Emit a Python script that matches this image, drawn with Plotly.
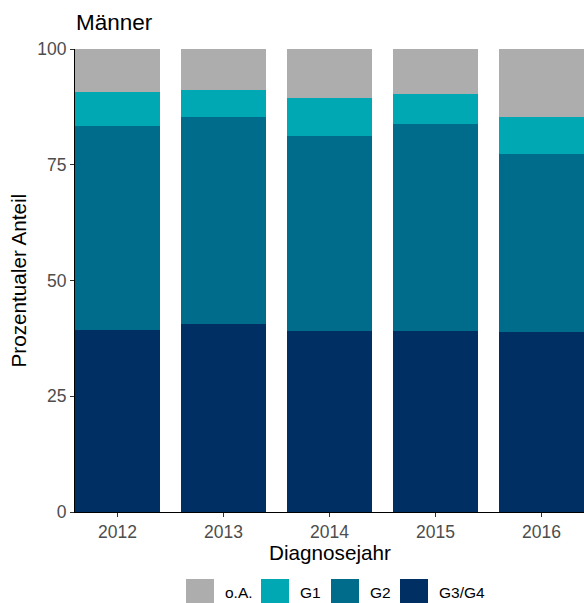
import plotly.graph_objects as go

years = ["2012", "2013", "2014", "2015", "2016"]
series_names = ["G3/G4", "G2", "G1", "o.A."]
g3g4 = [39.4, 40.5, 39.2, 39.2, 38.9]
g2 = [44.0, 44.8, 42.0, 44.6, 38.4]
g1 = [7.3, 5.9, 8.2, 6.5, 8.0]
oa = [9.3, 8.8, 10.6, 9.7, 14.7]
colors = ["#003063", "#006C8B", "#00A8B4", "#ADADAD"]
y_ticks = [0, 25, 50, 75, 100]

W, H = 584, 603
L, R, T, B = 75, 0, 49, 91
pw, ph = W - L - R, H - T - B

FONT = "Liberation Sans, Arial, sans-serif"

fig = go.Figure()
for name, vals, col in zip(series_names, [g3g4, g2, g1, oa], colors):
    fig.add_trace(go.Bar(x=years, y=vals, name=name, marker=dict(color=col, line=dict(width=0)),
                         showlegend=False))

fig.update_layout(
    width=W, height=H, barmode="stack", bargap=0.2,
    margin=dict(l=L, r=R, t=T, b=B, pad=0),
    paper_bgcolor="white", plot_bgcolor="white",
    font=dict(family=FONT),
    xaxis=dict(type="category", range=[-0.4, 4.4], showline=True, linecolor="black", linewidth=1.2,
               ticks="outside", ticklen=4, tickcolor="#333333", tickwidth=1,
               tickfont=dict(size=17.5, color="#4D4D4D"), showgrid=False, zeroline=False,
               fixedrange=True),
    yaxis=dict(range=[0, 100], tickvals=y_ticks, ticktext=[str(v) for v in y_ticks],
               showline=True, linecolor="black", linewidth=1.2,
               ticks="outside", ticklen=4, tickcolor="#333333", tickwidth=1,
               tickfont=dict(size=17.5, color="#4D4D4D"), showgrid=False, zeroline=False),
)

def px_x(px):
    return (px - L) / pw

def px_y(py):
    return (H - B - py) / ph

annotations = [
    dict(text="Männer", x=px_x(74), y=px_y(23), xref="paper", yref="paper", xanchor="left",
         yanchor="middle", showarrow=False, font=dict(size=22.5, color="black")),
    dict(text="Prozentualer Anteil", x=px_x(18), y=px_y(280.5), xref="paper", yref="paper",
         xanchor="center", yanchor="middle", textangle=-90, showarrow=False,
         font=dict(size=20.7, color="black")),
    dict(text="Diagnosejahr", x=px_x(330), y=px_y(552), xref="paper", yref="paper",
         xanchor="center", yanchor="middle", showarrow=False, font=dict(size=20.7, color="black")),
]

# legend (custom, larger keys like ggplot)
legend_order = ["o.A.", "G1", "G2", "G3/G4"]
key_x = [186, 261, 331, 400]
shapes = []
for nm, kx in zip(legend_order, key_x):
    col = colors[series_names.index(nm)]
    shapes.append(dict(type="rect", xref="paper", yref="paper", x0=px_x(kx), x1=px_x(kx + 28),
                       y0=px_y(606), y1=px_y(579), fillcolor=col, line=dict(width=0)))
    annotations.append(dict(text=nm, x=px_x(kx + 37), y=px_y(592), xref="paper", yref="paper",
                            xanchor="left", yanchor="middle", showarrow=False,
                            font=dict(size=15.5, color="black")))

fig.update_layout(annotations=annotations, shapes=shapes)
fig.write_html("out.html", config={"displayModeBar": False},
               post_script="document.body.style.margin='0';document.body.style.overflow='hidden';")
